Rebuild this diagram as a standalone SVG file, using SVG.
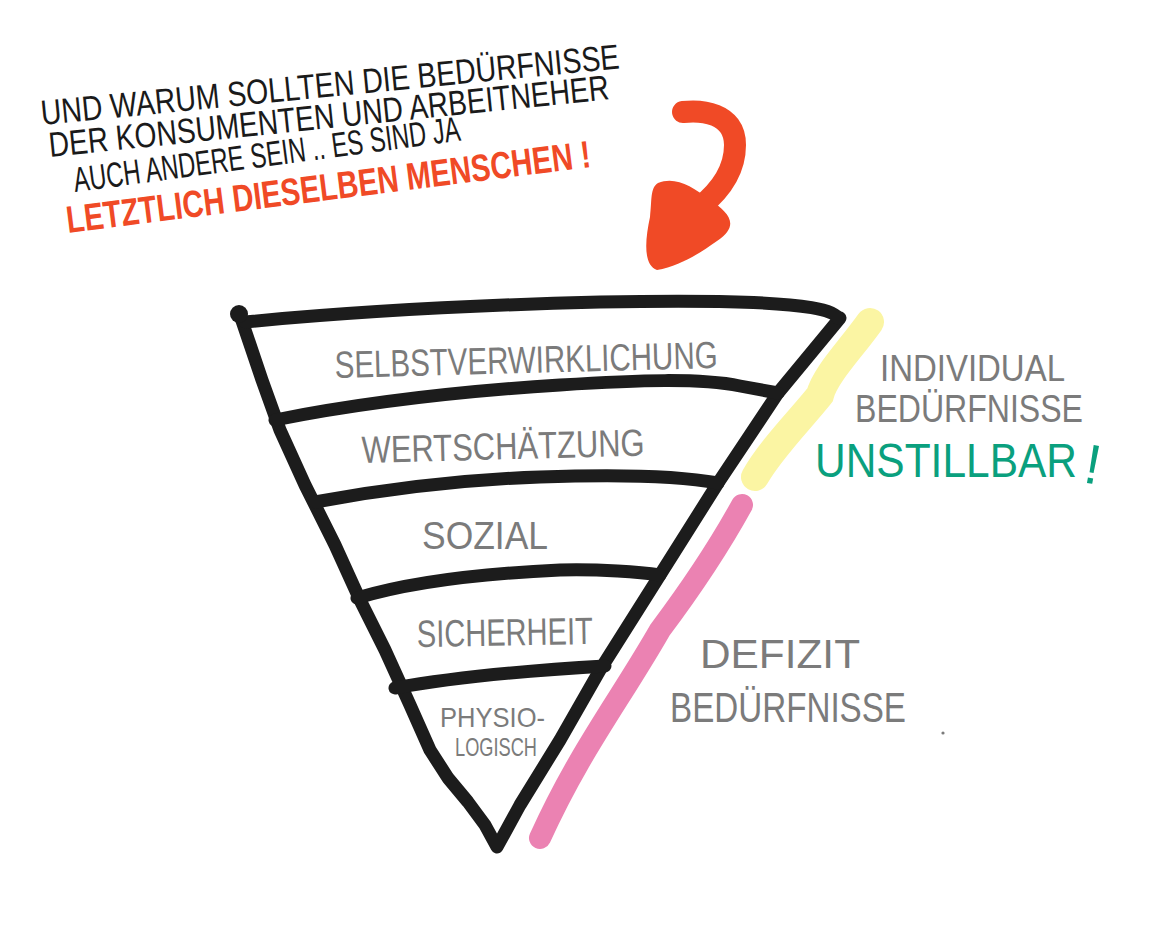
<svg xmlns="http://www.w3.org/2000/svg" width="1153" height="925" viewBox="0 0 1153 925">
<style>
.ink{fill:none;stroke:#1c1c1c;stroke-width:13;stroke-linecap:round;stroke-linejoin:round}
.hand{font-family:"Liberation Sans","DejaVu Sans",sans-serif;fill:#1a1a1a;font-size:35px}
.red{font-family:"Liberation Sans","DejaVu Sans",sans-serif;fill:#f04a26;font-size:38px;font-weight:bold}
.grey{font-family:"Liberation Sans","DejaVu Sans",sans-serif;fill:#7b7b7b;font-size:38px}
.green{font-family:"Liberation Sans","DejaVu Sans",sans-serif;fill:#0aa07e;font-size:48px}
</style>
<rect width="1153" height="925" fill="#ffffff"/>
<g id="question">
<text class="hand" x="42" y="125" transform="rotate(-5.6 42 125)" textLength="581" lengthAdjust="spacingAndGlyphs">UND WARUM SOLLTEN DIE BEDÜRFNISSE</text>
<text class="hand" x="50" y="157" transform="rotate(-5.9 50 157)" textLength="563" lengthAdjust="spacingAndGlyphs">DER KONSUMENTEN UND ARBEITNEHER</text>
<text class="hand" x="75" y="192" transform="rotate(-7.6 75 192)" textLength="390" lengthAdjust="spacingAndGlyphs">AUCH ANDERE SEIN .. ES SIND JA</text>
<text class="red" x="68" y="233" transform="rotate(-7.2 68 233)" textLength="528" lengthAdjust="spacingAndGlyphs">LETZTLICH DIESELBEN MENSCHEN !</text>
</g>
<g id="arrow">
<path d="M683,112 C700,110 735,112 735,145 C735,175 715,195 700,207" fill="none" stroke="#f04a26" stroke-width="22" stroke-linecap="round"/>
<path d="M658,183 C675,176 692,186 710,200 C730,213 740,226 717,241 C700,253 680,266 657,270 C643,265 645,240 650,217 C652,200 650,188 658,183 Z" fill="#f04a26"/>
</g>
<g id="pyramid">
<path class="ink" d="M240,315 L262,380 L280,430 L305,485 L335,545 L360,600 L385,650 L410,705 L430,750 L448,778 L468,802 L485,825 L497,847 L520,805 L560,740 L600,670 L660,575 L718,483 L778,393 L840,318"/>
<path class="ink" d="M838,318 C830,300 700,300 600,302 C480,305 350,312 245,322"/>
<circle cx="239" cy="314" r="9" fill="#1c1c1c"/>
<path class="ink" d="M275,420 C350,405 450,392 560,385 C640,380 700,378 740,386 L778,393"/>
<path class="ink" d="M315,502 C380,490 450,480 540,477 C620,474 680,476 718,483"/>
<path class="ink" d="M357,598 C400,585 470,574 560,570 C600,569 640,572 660,575"/>
<path class="ink" d="M395,688 C450,678 520,671 605,666"/>
</g>
<g id="levels">
<text class="grey" x="335" y="378" transform="rotate(-1.5 335 378)" textLength="383" lengthAdjust="spacingAndGlyphs">SELBSTVERWIRKLICHUNG</text>
<text class="grey" x="362" y="463" transform="rotate(-1.5 362 463)" textLength="283" lengthAdjust="spacingAndGlyphs">WERTSCHÄTZUNG</text>
<text class="grey" x="422" y="549" textLength="126" lengthAdjust="spacingAndGlyphs">SOZIAL</text>
<text class="grey" x="417" y="647" transform="rotate(-1 417 647)" textLength="176" lengthAdjust="spacingAndGlyphs">SICHERHEIT</text>
<text class="grey" x="440" y="727" style="font-size:28px" textLength="105" lengthAdjust="spacingAndGlyphs">PHYSIO-</text>
<text class="grey" x="455" y="756" style="font-size:26px" textLength="82" lengthAdjust="spacingAndGlyphs">LOGISCH</text>
</g>
<g id="individual">
<path d="M870,322 C850,350 825,375 820,395 C800,420 770,450 755,477" fill="none" stroke="#fbf5a3" stroke-width="28" stroke-linecap="round"/>
<text class="grey" x="880" y="381" style="font-size:36px" textLength="185" lengthAdjust="spacingAndGlyphs">INDIVIDUAL</text>
<text class="grey" x="855" y="422" textLength="228" lengthAdjust="spacingAndGlyphs">BEDÜRFNISSE</text>
<text class="green" x="815" y="477" textLength="262" lengthAdjust="spacingAndGlyphs">UNSTILLBAR</text>
<text class="green" x="1082" y="482" transform="rotate(10 1082 482)" style="font-size:56px">!</text>
</g>
<g id="defizit">
<path d="M742,505 C720,545 690,590 660,630 C620,700 580,750 540,838" fill="none" stroke="#eb82b2" stroke-width="22" stroke-linecap="round"/>
<text class="grey" x="700" y="668" style="font-size:40px" textLength="160" lengthAdjust="spacingAndGlyphs">DEFIZIT</text>
<text class="grey" x="670" y="722" style="font-size:42px" textLength="236" lengthAdjust="spacingAndGlyphs">BEDÜRFNISSE</text>
<circle cx="943" cy="733" r="1.6" fill="#7b7b7b"/>
</g>
</svg>
